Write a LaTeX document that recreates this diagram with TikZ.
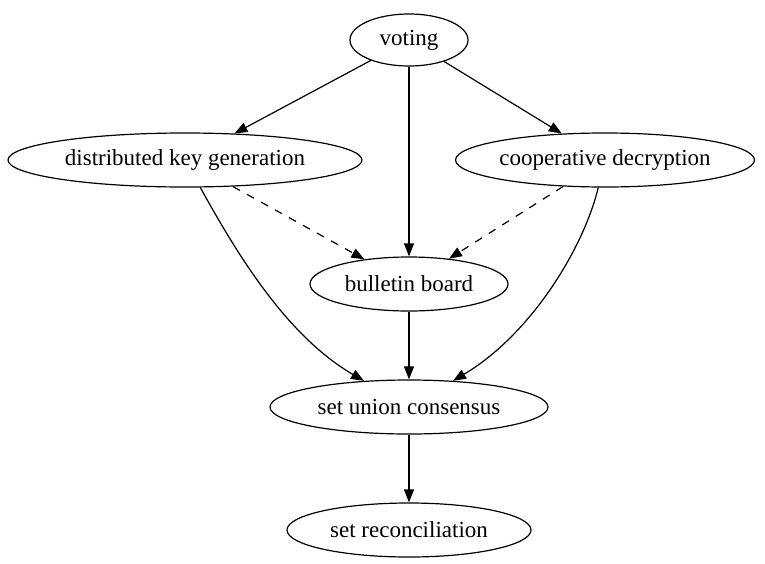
\documentclass[tikz,border=0pt]{standalone}
\usepackage{fontspec}
\setmainfont{Liberation Serif}
\usepackage{tikz}
\usetikzlibrary{shapes.geometric, arrows.meta, positioning}
\tikzstyle{part} = [ellipse, draw=black, line width=1.2pt, inner sep=0pt, minimum height=54pt, font=\fontsize{23pt}{26pt}\selectfont]
\tikzstyle{arrow} = [line width=1.2pt, -{Triangle[length=13pt,width=10pt]}]
\tikzstyle{uses} = [arrow, dash pattern=on 8pt off 8pt]

\begin{document}
\begin{tikzpicture}[x=1pt, y=-1pt]
	\useasboundingbox (0,0) rectangle (765,563);
	
	% Nodes
	\node (voting) [part, minimum width=118pt, minimum height=52pt] at (409,40) {voting};
	\node (dkg) [part, minimum width=354pt] at (185,160) {distributed key generation};
	\node (decrypt) [part, minimum width=296pt] at (605,160) {cooperative decryption};
	\node (board) [part, minimum width=198pt] at (409,284) {bulletin board};
	\node (consensus) [part, minimum width=278pt] at (409,407) {set union consensus};
	\node (reconcile) [part, minimum width=244pt] at (409,530) {set reconciliation};
	
	% Arrows
	\draw [arrow] (voting) -- (dkg);
	\draw [arrow] (voting) -- (decrypt);
	\draw [arrow] (voting) -- (board);
	\draw [uses] (dkg) -- (board);
	\draw [uses] (decrypt) -- (board);
	\draw [arrow] (dkg) .. controls (235,250) and (285,335) .. (consensus);
	\draw [arrow] (decrypt) .. controls (583,250) and (530,335) .. (consensus);
	\draw [arrow] (board) -- (consensus);
	\draw [arrow] (consensus) -- (reconcile);
	
\end{tikzpicture}
\end{document}
